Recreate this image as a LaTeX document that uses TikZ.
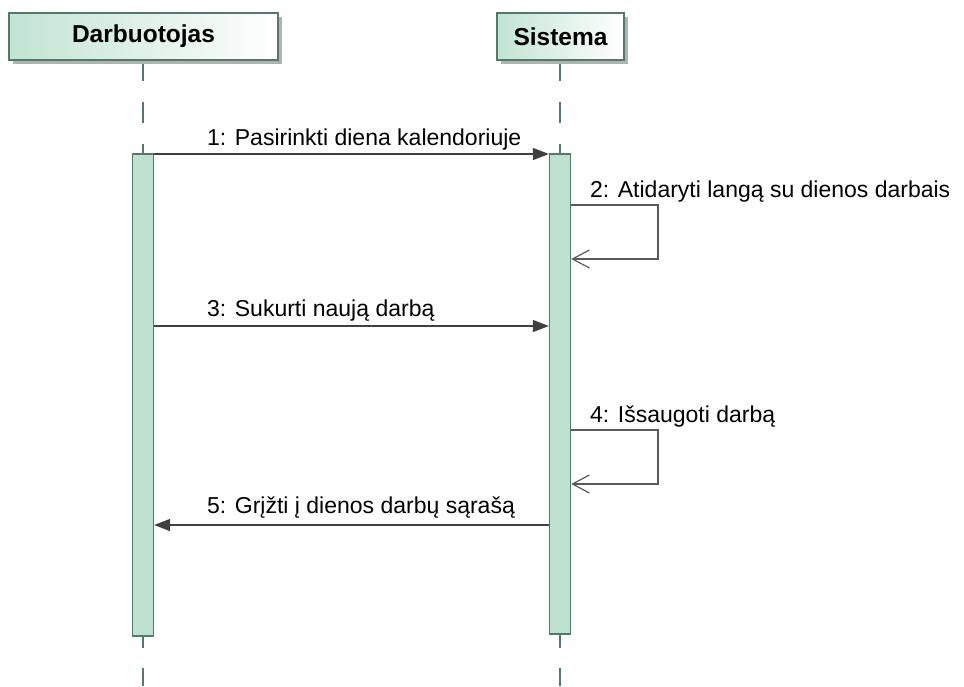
\documentclass[tikz,border=0pt]{standalone}
\usepackage{fontspec}
\setmainfont{Liberation Sans}
\usetikzlibrary{arrows.meta,shadows}
\definecolor{boxedge}{HTML}{56786A}
\definecolor{boxgreen}{HTML}{C2E4D2}
\definecolor{barfill}{HTML}{BEE2CF}
\definecolor{msgline}{HTML}{404040}
\definecolor{loopline}{HTML}{5A5A5A}
\tikzset{
  actorbox/.style={draw=boxedge, line width=1.3pt, left color=boxgreen, right color=white,
    minimum height=47pt, inner sep=0pt,
    font=\fontsize{24.5}{24.5}\selectfont\bfseries,
    drop shadow={shadow xshift=4pt, shadow yshift=-4pt, fill=black!30, opacity=1}},
  actbar/.style={draw=boxedge, line width=1.3pt, fill=barfill, minimum width=21pt, inner sep=0pt},
  lifeline/.style={draw=boxedge, line width=1.6pt},
  msg/.style={draw=msgline, line width=1.4pt, -{Triangle[length=16pt,width=12pt]}},
  selfmsg/.style={draw=loopline, line width=1.2pt, -{Straight Barb[length=17pt,width=18pt]}},
  msglabel/.style={anchor=base west, inner sep=0pt, font=\fontsize{23}{23}\selectfont}
}
\begin{document}
\begin{tikzpicture}[x=1pt,y=-1pt]
\useasboundingbox (0,0) rectangle (964,686);

% lifelines (dashed parts above and below the activation bars)
\draw[lifeline, dash pattern=on 21pt off 21pt] (143,60) -- (143,154);
\draw[lifeline, dash pattern=on 21pt off 21pt] (560,60) -- (560,154);
\draw[lifeline, dash pattern=on 12pt off 20pt on 30pt off 0pt] (143,636) -- (143,686);
\draw[lifeline, dash pattern=on 14pt off 20pt on 30pt off 0pt] (560,634) -- (560,686);

% participants
\node[actorbox, minimum width=269pt] (worker) at (143.5,36.5) {Darbuotojas};
\node[actorbox, minimum width=127pt] (system) at (560.5,36.5) {Sistema};

% activation bars
\node[actbar, minimum height=482pt] (wbar) at (143,395) {};
\node[actbar, minimum height=480pt] (sbar) at (560,394) {};

% message end points on the bars
\coordinate (m1a) at (wbar.east |- 0,154);
\coordinate (m1b) at (sbar.west |- 0,154);
\coordinate (m2a) at (sbar.east |- 0,205);
\coordinate (m2b) at (sbar.east |- 0,259);
\coordinate (m3a) at (wbar.east |- 0,326);
\coordinate (m3b) at (sbar.west |- 0,326);
\coordinate (m4a) at (sbar.east |- 0,430);
\coordinate (m4b) at (sbar.east |- 0,484);
\coordinate (m5a) at (sbar.west |- 0,525);
\coordinate (m5b) at (wbar.east |- 0,525);

% messages
\draw[msg] (m1a) -- (m1b);
\node[msglabel] (l1) at (207,145) {1: Pasirinkti diena kalendoriuje};

\draw[selfmsg] (m2a) -- (658,205) -- (658,259) -- (m2b);
\node[msglabel] (l2) at (590,197) {2: Atidaryti langą su dienos darbais};

\draw[msg] (m3a) -- (m3b);
\node[msglabel] (l3) at (207,316) {3: Sukurti naują darbą};

\draw[selfmsg] (m4a) -- (658,430) -- (658,484) -- (m4b);
\node[msglabel] (l4) at (590,422) {4: Išsaugoti darbą};

\draw[msg] (m5a) -- (m5b);
\node[msglabel] (l5) at (207,513) {5: Grįžti į dienos darbų sąrašą};
\end{tikzpicture}
\end{document}
